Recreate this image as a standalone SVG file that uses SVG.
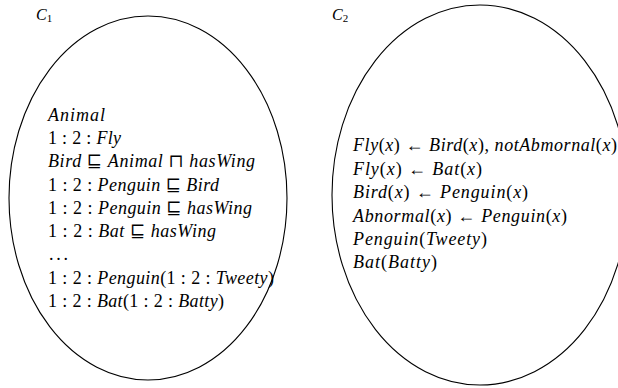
<svg xmlns="http://www.w3.org/2000/svg" width="618" height="388" viewBox="0 0 618 388">
<style>
.e{fill:none;stroke:#000;stroke-width:1.1}
.t{font-family:'Liberation Serif','Times New Roman',Times,'DejaVu Serif',serif;font-size:18px;fill:#000}
.i{font-style:italic}
.lbl{font-size:16px;font-style:italic}
.sub{font-size:11px;font-style:normal}
</style>
<rect width="618" height="388" fill="#fff"/>
<g id="C1" class="t" font-family="Liberation Serif, serif">
<ellipse class="e" cx="148" cy="198" rx="139" ry="182"/>
<text class="lbl" x="36" y="20">C<tspan class="sub" dy="2">1</tspan></text>
<text x="48" y="121" class="i" textLength="57">Animal</text>
<text x="48" y="144" textLength="73">1 : 2 : <tspan class="i">Fly</tspan></text>
<text x="48" y="167" textLength="207"><tspan class="i">Bird</tspan> ⊑ <tspan class="i">Animal</tspan> ⊓ <tspan class="i">hasWing</tspan></text>
<text x="48" y="191" textLength="171">1 : 2 : <tspan class="i">Penguin</tspan> ⊑ <tspan class="i">Bird</tspan></text>
<text x="48" y="214" textLength="204">1 : 2 : <tspan class="i">Penguin</tspan> ⊑ <tspan class="i">hasWing</tspan></text>
<text x="48" y="237" textLength="168">1 : 2 : <tspan class="i">Bat</tspan> ⊑ <tspan class="i">hasWing</tspan></text>
<text x="49" y="260" textLength="19">. . .</text>
<text x="48" y="284" textLength="226">1 : 2 : <tspan class="i">Penguin</tspan>(1 : 2 : <tspan class="i">Tweety</tspan>)</text>
<text x="48" y="307" textLength="176">1 : 2 : <tspan class="i">Bat</tspan>(1 : 2 : <tspan class="i">Batty</tspan>)</text>
</g>
<g id="C2" class="t" font-family="Liberation Serif, serif">
<ellipse class="e" cx="480" cy="195" rx="148" ry="190"/>
<text class="lbl" x="332" y="20">C<tspan class="sub" dy="2">2</tspan></text>
<text x="353" y="151" textLength="264"><tspan class="i">Fly</tspan>(<tspan class="i">x</tspan>) ← <tspan class="i">Bird</tspan>(<tspan class="i">x</tspan>), <tspan class="i">notAbmornal</tspan>(<tspan class="i">x</tspan>)</text>
<text x="353" y="175" textLength="129"><tspan class="i">Fly</tspan>(<tspan class="i">x</tspan>) ← <tspan class="i">Bat</tspan>(<tspan class="i">x</tspan>)</text>
<text x="353" y="198" textLength="175"><tspan class="i">Bird</tspan>(<tspan class="i">x</tspan>) ← <tspan class="i">Penguin</tspan>(<tspan class="i">x</tspan>)</text>
<text x="353" y="222" textLength="214"><tspan class="i">Abnormal</tspan>(<tspan class="i">x</tspan>) ← <tspan class="i">Penguin</tspan>(<tspan class="i">x</tspan>)</text>
<text x="353" y="245" textLength="134"><tspan class="i">Penguin</tspan>(<tspan class="i">Tweety</tspan>)</text>
<text x="353" y="268" textLength="84"><tspan class="i">Bat</tspan>(<tspan class="i">Batty</tspan>)</text>
</g>
<g id="connectors"/>
</svg>
